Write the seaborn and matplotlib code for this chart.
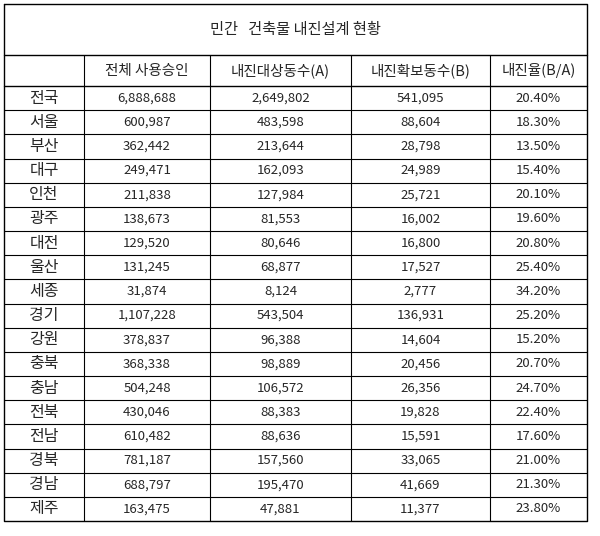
import matplotlib
matplotlib.use("Agg")
import matplotlib.pyplot as plt
import seaborn as sns

title = "민간   건축물 내진설계 현황"
headers = ["", "전체 사용승인", "내진대상동수(A)", "내진확보동수(B)", "내진율(B/A)"]
regions = ["전국", "서울", "부산", "대구", "인천", "광주", "대전", "울산", "세종", "경기",
           "강원", "충북", "충남", "전북", "전남", "경북", "경남", "제주"]
total_approved = [6888688, 600987, 362442, 249471, 211838, 138673, 129520, 131245, 31874,
                  1107228, 378837, 368338, 504248, 430046, 610482, 781187, 688797, 163475]
target_a = [2649802, 483598, 213644, 162093, 127984, 81553, 80646, 68877, 8124,
            543504, 96388, 98889, 106572, 88383, 88636, 157560, 195470, 47881]
secured_b = [541095, 88604, 28798, 24989, 25721, 16002, 16800, 17527, 2777,
             136931, 14604, 20456, 26356, 19828, 15591, 33065, 41669, 11377]
rate = [20.4, 18.3, 13.5, 15.4, 20.1, 19.6, 20.8, 25.4, 34.2,
        25.2, 15.2, 20.7, 24.7, 22.4, 17.6, 21.0, 21.3, 23.8]

sns.set_theme(style="white", font="Noto Sans CJK KR")
fig = plt.figure(figsize=(6.0, 5.36), dpi=100)
ax = fig.add_axes([0, 0, 1, 1])
ax.set_xlim(0, 600); ax.set_ylim(536, 0); ax.axis("off")

cols = [4, 84, 210, 351, 490, 587]
top, hdr, body, bottom = 4, 55, 86, 521
n = len(regions)
rh = (bottom - body) / n
lw = 1.0
# outer & title
ax.plot([cols[0], cols[-1], cols[-1], cols[0], cols[0]], [top, top, bottom, bottom, top], color="black", lw=lw)
ax.plot([cols[0], cols[-1]], [hdr, hdr], color="black", lw=lw)
ax.plot([cols[0], cols[-1]], [body, body], color="black", lw=lw)
for i in range(1, n):
    y = body + i * rh
    ax.plot([cols[0], cols[-1]], [y, y], color="black", lw=0.8)
for x in cols[1:-1]:
    ax.plot([x, x], [hdr, bottom], color="black", lw=0.8)

ax.text((cols[0] + cols[-1]) / 2, (top + hdr) / 2, title, ha="center", va="center", fontsize=11)
for j, h in enumerate(headers):
    ax.text((cols[j] + cols[j + 1]) / 2, (hdr + body) / 2, h, ha="center", va="center", fontsize=10.5)
for i in range(n):
    yc = body + (i + 0.5) * rh
    vals = [regions[i], f"{total_approved[i]:,}", f"{target_a[i]:,}", f"{secured_b[i]:,}", f"{rate[i]:.2f}%"]
    for j, v in enumerate(vals):
        ax.text((cols[j] + cols[j + 1]) / 2, yc, v, ha="center", va="center",
                fontsize=11.5 if j == 0 else 9.5)

fig.savefig("out.png", dpi=100, facecolor="white")
